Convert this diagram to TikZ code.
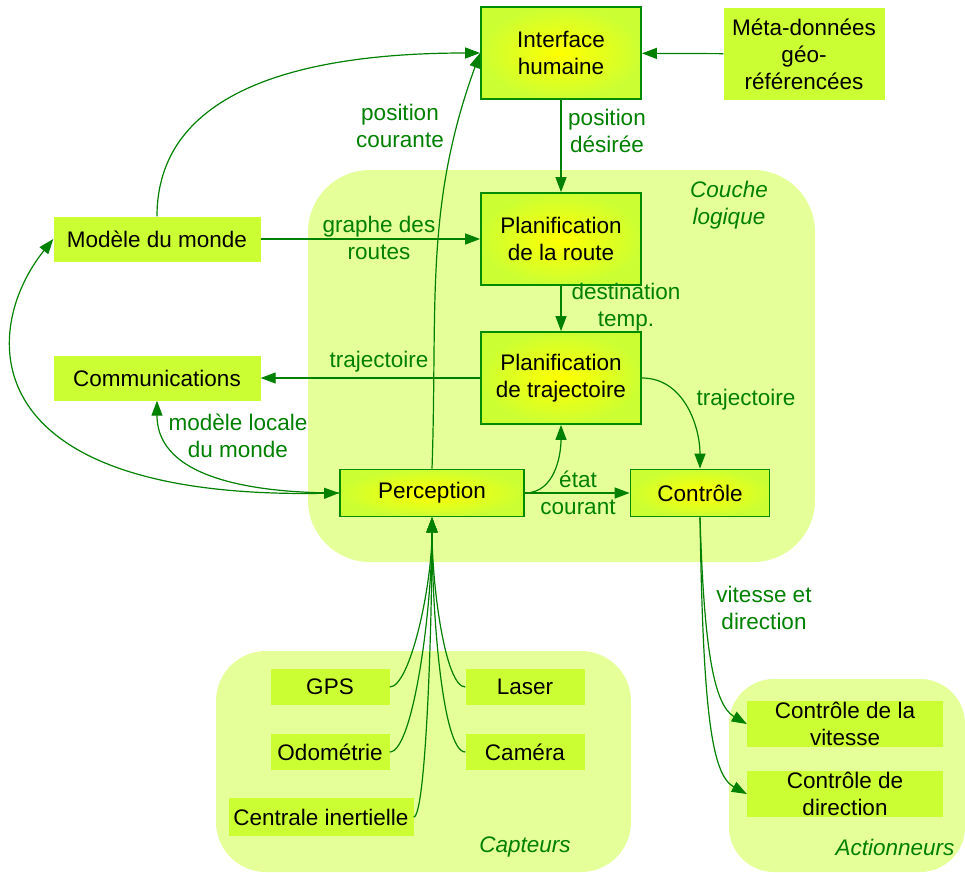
\documentclass[tikz,border=0pt]{standalone}
\usepackage{fontspec}
\setmainfont{Liberation Sans}
\usetikzlibrary{arrows.meta}
\definecolor{LineGreen}{RGB}{0,128,0}
\definecolor{BorderGreen}{RGB}{0,140,0}
\definecolor{BoxLime}{RGB}{204,255,51}
\definecolor{ZoneLime}{RGB}{229,255,153}
\begin{document}
\begin{tikzpicture}
[
x=1pt, y=1pt,
every node/.style={font=\fontsize{22.5}{27}\selectfont, align=center},
Zone/.style={fill=ZoneLime, draw=none},
Module/.style={rectangle, draw=BorderGreen, line width=1.8pt, inner color=yellow, outer color=BoxLime, inner sep=0pt, minimum width=160pt, minimum height=92pt},
Block/.style={rectangle, fill=BoxLime, inner sep=0pt},
Sensor/.style={Block, minimum width=119pt, minimum height=36pt},
Actuator/.style={Block, minimum width=196pt, minimum height=46pt},
Label/.style={text=LineGreen, inner sep=0pt},
ZoneTitle/.style={Label, font=\fontsize{22.5}{27}\selectfont\itshape},
Arrow/.style={-{Triangle[length=15pt,width=11pt]}, draw=LineGreen, line width=1.2pt},
DoubleArrow/.style={{Triangle[length=15pt,width=11pt]}-{Triangle[length=15pt,width=11pt]}, draw=LineGreen, line width=1.2pt},
]

\useasboundingbox (0,0) rectangle (965,-872);

% zones
\fill[Zone, rounded corners=62pt] (308,-170) rectangle (815,-562);
\fill[Zone, rounded corners=50pt] (216,-651) rectangle (631,-872);
\fill[Zone, rounded corners=45pt] (729,-679) rectangle (965,-872);

\node[ZoneTitle] (tcouche) at (729,-205) {Couche\\logique};
\node[ZoneTitle] (tcapteurs) at (525,-847) {Capteurs};
\node[ZoneTitle] (tactionneurs) at (895,-847) {Actionneurs};

% modules
\node[Module] (inter) at (561,-53) {Interface\\humaine};
\node[Block, minimum width=161pt, minimum height=92pt] (meta) at (804,-54) {Méta-données\\géo-\\référencées};
\node[Module] (route) at (561,-239) {Planification\\de la route};
\node[Module] (traj) at (561,-378) {Planification\\de trajectoire};
\node[Block, minimum width=207pt, minimum height=45pt] (modele) at (157,-239) {Modèle du monde};
\node[Block, minimum width=207pt, minimum height=45pt] (comm) at (157,-378) {Communications};
\node[Module, minimum width=184pt, minimum height=47pt] (perc) at (432,-493) {Perception};
\node[Module, minimum width=139pt, minimum height=47pt] (ctrl) at (700,-493) {Contrôle};

% capteurs
\node[Sensor] (gps) at (330,-687) {GPS};
\node[Sensor] (laser) at (525,-687) {Laser};
\node[Sensor] (odo) at (330,-752) {Odométrie};
\node[Sensor] (cam) at (525,-752) {Caméra};
\node[Block, minimum width=185pt, minimum height=38pt] (centrale) at (321,-817) {Centrale inertielle};

% actionneurs
\node[Actuator] (vitesse) at (845,-724) {Contrôle de la\\vitesse};
\node[Actuator] (direction) at (845,-794) {Contrôle de\\direction};

% connecteurs
\draw[Arrow] (meta) -- (inter);
\draw[Arrow] (inter) -- (route);
\draw[Arrow] (route) -- (traj);
\draw[Arrow] (modele) -- (route);
\draw[Arrow] (traj) -- (comm);
\draw[Arrow] (perc) -- (ctrl);
\draw[Arrow] (modele.north) to[out=90,in=180] (inter.west);
\draw[Arrow] (perc.north) to[out=88,in=250] (inter.west);
\draw[Arrow] (traj.east) to[out=0,in=90] (ctrl.north);
\draw[Arrow] (perc.east) to[out=0,in=-90] (traj.south);
\draw[Arrow] (perc.west) to[out=180,in=-90] (comm.south);
\draw[DoubleArrow] (perc.west) .. controls (-30,-500) and (-20,-330) .. (modele.west);

\draw[Arrow] (gps.east) to[out=0,in=-90,out looseness=0.3] (perc.south);
\draw[Arrow] (odo.east) to[out=0,in=-90,out looseness=0.25] (perc.south);
\draw[Arrow] (centrale.east) to[out=0,in=-90,out looseness=0.1] (perc.south);
\draw[Arrow] (laser.west) to[out=180,in=-90,out looseness=0.3] (perc.south);
\draw[Arrow] (cam.west) to[out=180,in=-90,out looseness=0.25] (perc.south);

\draw[Arrow] (ctrl.south) .. controls (704,-650) and (714,-705) .. (vitesse.west);
\draw[Arrow] (ctrl.south) .. controls (703,-715) and (712,-775) .. (direction.west);

% etiquettes
\node[Label] (lposdes) at (607,-131) {position\\désirée};
\node[Label] (lposcour) at (400,-126) {position\\courante};
\node[Label] (lgraphe) at (379,-238) {graphe des\\routes};
\node[Label] (ldest) at (626,-307) {destination\\temp.};
\node[Label] (ltraj1) at (379,-362) {trajectoire};
\node[Label] (ltraj2) at (746,-400) {trajectoire};
\node[Label] (lmodloc) at (238,-436) {modèle locale\\du monde};
\node[Label] (letat) at (578,-493) {état\\courant};
\node[Label] (lvitdir) at (764,-608) {vitesse et\\direction};

\end{tikzpicture}
\end{document}
